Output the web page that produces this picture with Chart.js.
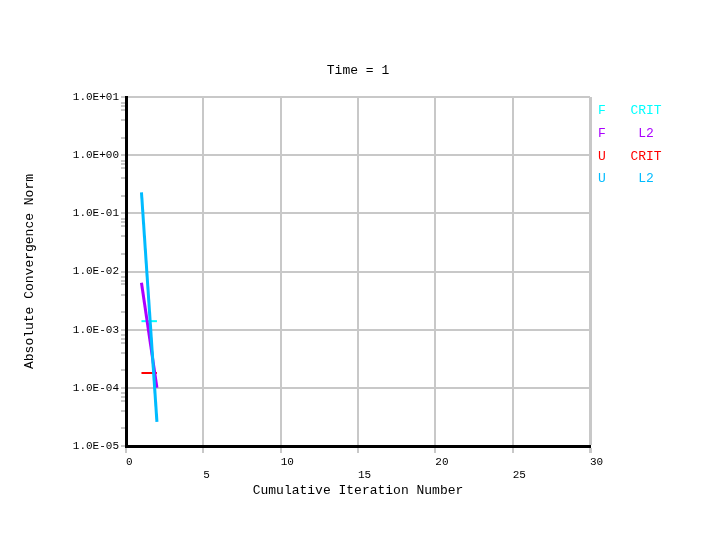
<!DOCTYPE html>
<html>
<head>
<meta charset="utf-8">
<script src="https://cdn.jsdelivr.net/npm/chart.js@4"></script>
<style>
  body { margin: 0; background: #fff; }
</style>
</head>
<body>
<canvas id="chart" width="720" height="546"></canvas>
<script>
(function(){

    // values
    const iterations = [1, 2];
    const fCrit = [1.4e-3, 1.4e-3];
    const fL2   = [6.4e-3, 1.0e-4];
    const uCrit = [1.8e-4, 1.8e-4];
    const uL2   = [0.23, 2.6e-5];

    const xTicks = [0, 5, 10, 15, 20, 25, 30];
    const decades = [1e-5, 1e-4, 1e-3, 1e-2, 1e-1, 1e0, 1e1];
    const minorSteps = [2, 4, 6, 7, 8];

    const legendRows = [
        ['F', 'CRIT', '#00ffff'],
        ['F', 'L2',   '#aa00ff'],
        ['U', 'CRIT', '#ff0000'],
        ['U', 'L2',   '#00bbff']
    ];

    const font = "'Liberation Mono', 'DejaVu Sans Mono', monospace";
    const gridGrey = '#c8c8c8';

    const isDecade = v => decades.some(d => Math.abs(v / d - 1) < 1e-6);

    const expLabel = v => {
        const e = Math.round(Math.log10(v));
        const sign = e < 0 ? '-' : '+';
        return '1.0E' + sign + String(Math.abs(e)).padStart(2, '0');
    };

    const points = ys => iterations.map((x, i) => ({ x, y: ys[i] }));

    const yTickValues = () => {
        const out = [];
        decades.forEach((d, i) => {
            out.push(d);
            if (i < decades.length - 1)
                minorSteps.forEach(m => out.push(d * m));
        });
        return out;
    };

    const textPlugin = {
        id: 'texts',
        afterDraw(chart) {
            const { ctx, chartArea } = chart;
            ctx.save();
            ctx.font = '13px ' + font;
            ctx.textBaseline = 'middle';
            ctx.textAlign = 'center';
            ctx.fillStyle = '#000';
            ctx.fillText('Time = 1', (chartArea.left + chartArea.right) / 2, 71);

            const rowY = [111, 134, 157, 179];
            legendRows.forEach(([a, b, color], i) => {
                ctx.fillStyle = color;
                ctx.fillText(a, 602, rowY[i]);
                ctx.fillText(b, 646, rowY[i]);
            });
            ctx.restore();
        }
    };

    new Chart(document.getElementById('chart'), {
        type: 'line',
        data: {
            datasets: [
                { label: 'U L2',   data: points(uL2),   borderColor: '#00bbff', borderWidth: 3, order: 0 },
                { label: 'F L2',   data: points(fL2),   borderColor: '#aa00ff', borderWidth: 3, order: 1 },
                { label: 'U CRIT', data: points(uCrit), borderColor: '#ff0000', borderWidth: 2, order: 2 },
                { label: 'F CRIT', data: points(fCrit), borderColor: '#00ffff', borderWidth: 2, order: 3 }
            ]
        },
        options: {
            responsive: false,
            animation: false,
            devicePixelRatio: 1,
            layout: { padding: { top: 97, right: 130, bottom: 0, left: 0 } },
            elements: { point: { radius: 0 }, line: { tension: 0 } },
            plugins: { legend: { display: false }, tooltip: { enabled: false } },
            scales: {
                x: {
                    type: 'linear',
                    min: 0,
                    max: 30,
                    afterBuildTicks: s => { s.ticks = xTicks.map(v => ({ value: v })); },
                    afterFit: s => { s.height = 100; },
                    border: { color: '#000', width: 3 },
                    grid: {
                        color: c => c.tick && c.tick.value === 0 ? 'rgba(0,0,0,0)' : gridGrey,
                        lineWidth: c => c.tick && c.tick.value === 30 ? 3 : 2,
                        tickColor: gridGrey,
                        tickLength: 7
                    },
                    ticks: {
                        autoSkip: false,
                        maxRotation: 0,
                        align: 'start',
                        padding: 2,
                        color: '#000',
                        font: { family: font, size: 11 },
                        callback: v => (v / 5) % 2 === 1 ? ['', String(v)] : [String(v)]
                    },
                    title: {
                        display: true,
                        text: 'Cumulative Iteration Number',
                        color: '#000',
                        font: { family: font, size: 13 },
                        padding: { top: 0, bottom: 48 }
                    }
                },
                y: {
                    type: 'logarithmic',
                    min: 1e-5,
                    max: 10,
                    afterBuildTicks: s => { s.ticks = yTickValues().map(v => ({ value: v })); },
                    afterFit: s => { s.width = 126; },
                    border: { color: '#000', width: 3 },
                    grid: {
                        color: c => c.tick && isDecade(c.tick.value) && c.tick.value > 1e-5 ? gridGrey : 'rgba(0,0,0,0)',
                        lineWidth: 2,
                        tickColor: gridGrey,
                        tickLength: 5
                    },
                    ticks: {
                        autoSkip: false,
                        padding: 2,
                        color: '#000',
                        font: { family: font, size: 11 },
                        callback: v => isDecade(v) ? expLabel(v) : ''
                    },
                    title: {
                        display: true,
                        text: 'Absolute Convergence Norm',
                        color: '#000',
                        font: { family: font, size: 13 },
                        padding: { top: 22, bottom: 0 }
                    }
                }
            }
        },
        plugins: [textPlugin]
    });
})();
</script>
</body>
</html>
